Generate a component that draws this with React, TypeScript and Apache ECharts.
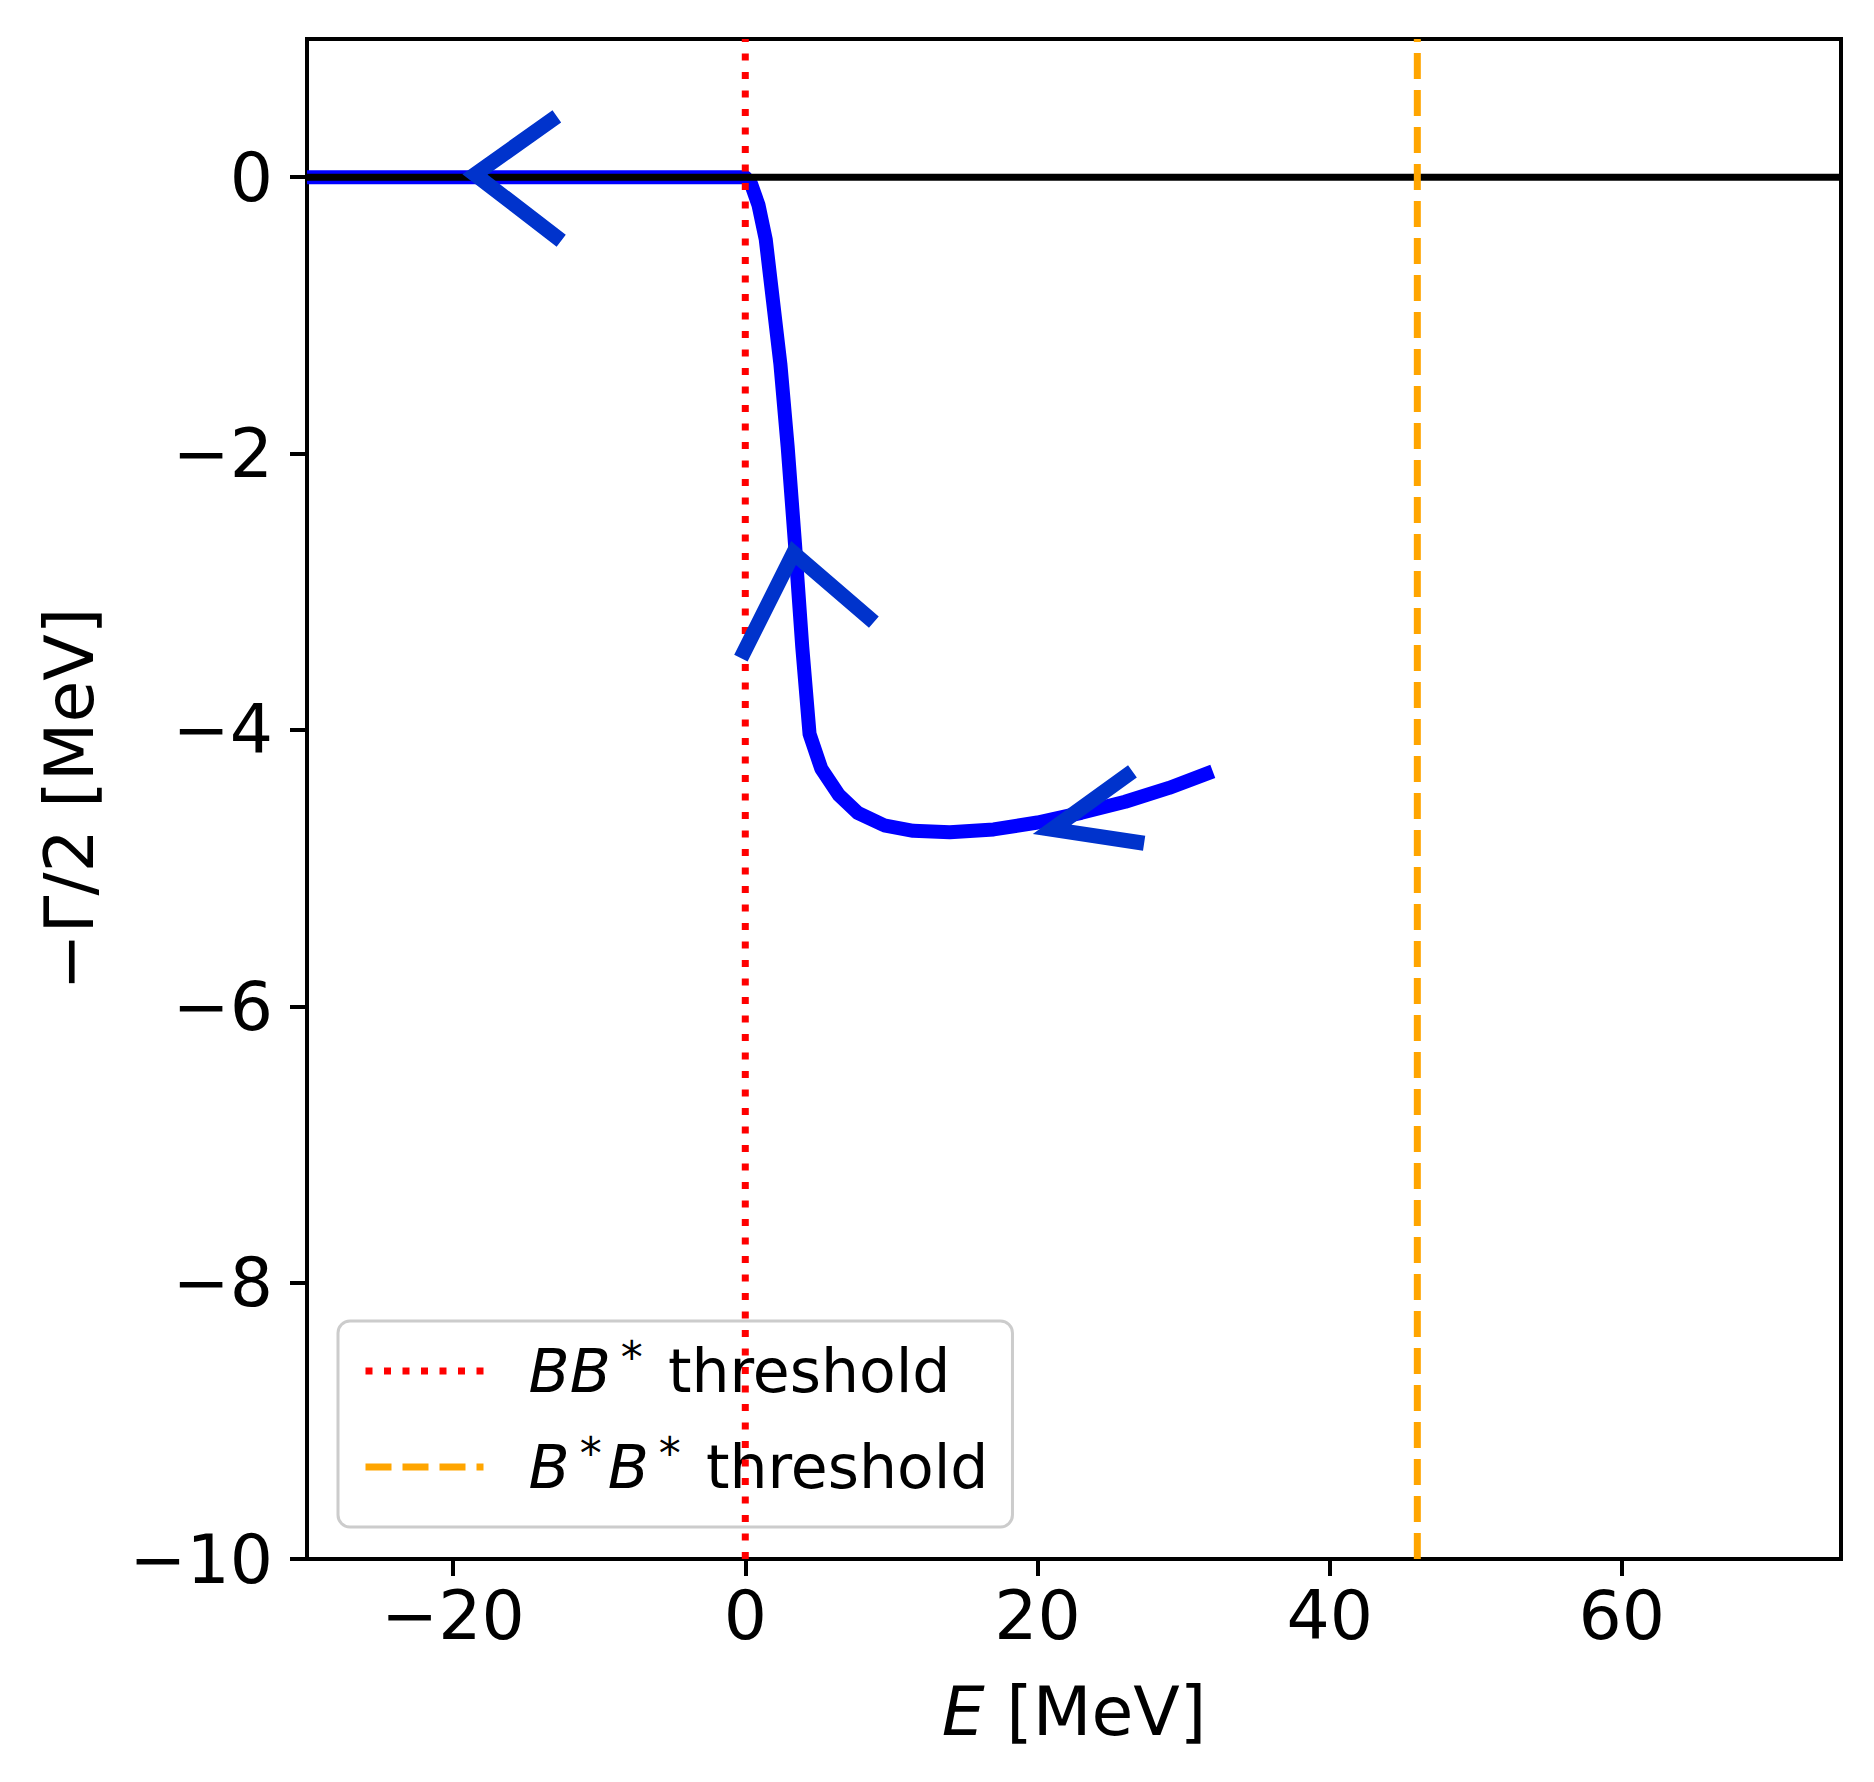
import React, { useEffect, useRef } from "react";
import * as echarts from "echarts";

// ---- data ----
const xTicks = [-20, 0, 20, 40, 60];
const yTicks = [-10, -8, -6, -4, -2, 0];

// trajectory of the pole: [E, -Γ/2]
const poleE = [-30, 0, 0.4, 0.9, 1.4, 1.9, 2.4, 2.9, 3.4, 3.9, 4.4, 5.2, 6.4, 7.7, 9.5, 11.5, 14, 17, 20, 23, 26, 29, 32];
const poleG = [0, 0, -0.05, -0.2, -0.45, -0.9, -1.35, -1.95, -2.65, -3.4, -4.03, -4.28, -4.47, -4.6, -4.69, -4.73, -4.74, -4.72, -4.67, -4.6, -4.52, -4.42, -4.3];

const bbThreshold = 0;
const bsbsThreshold = 46.0;
const yRange = [-10, 1];
const xRange = [-30, 75];

// arrow heads: [arm end 1, tip, arm end 2]
const arrow1 = [[-12.9, 0.44], [-18.5, 0.02], [-12.6, -0.46]];
const arrow2 = [[-0.3, -3.48], [3.3, -2.72], [8.8, -3.22]];
const arrow3 = [[26.5, -4.3], [21.0, -4.72], [27.3, -4.82]];

const FONT = "DejaVu Sans";

export default function App() {
  const ref = useRef<HTMLDivElement>(null);
  useEffect(() => {
    document.body.style.margin = "0";
    const chart = echarts.init(ref.current!, null, { renderer: "svg" });
    const curve = poleE.map((e, i) => [e, poleG[i]]);
    const arrowSeries = [arrow1, arrow2, arrow3].map((a, i) => ({
      type: "line",
      name: "arrow" + i,
      data: a,
      symbol: "none",
      z: 10,
      lineStyle: { color: "#0033cc", width: 15, cap: "butt", join: "miter" },
    }));
    chart.setOption({
      animation: false,
      backgroundColor: "#ffffff",
      grid: {
        left: 307,
        top: 39,
        width: 1534,
        height: 1520,
        show: true,
        borderColor: "#000",
        borderWidth: 4,
        backgroundColor: "transparent",
      },
      xAxis: {
        type: "value",
        min: xRange[0],
        max: xRange[1],
        splitLine: { show: false },
        axisLine: { show: true, onZero: false, lineStyle: { color: "#000", width: 4 } },
        axisTick: { show: true, customValues: xTicks, length: 17, lineStyle: { color: "#000", width: 4 } },
        axisLabel: {
          customValues: xTicks,
          fontSize: 68,
          fontFamily: FONT,
          color: "#000",
          margin: 22,
          formatter: (v: number) => String(v).replace("-", "\u2212"),
        },
        name: "{i|E} [MeV]",
        nameLocation: "middle",
        nameGap: 118,
        nameTextStyle: {
          fontSize: 68,
          fontFamily: FONT,
          color: "#000",
          rich: { i: { fontSize: 68, fontFamily: FONT, fontStyle: "italic", color: "#000" } },
        },
      },
      yAxis: {
        type: "value",
        min: yRange[0],
        max: yRange[1],
        splitLine: { show: false },
        axisLine: { show: true, onZero: false, lineStyle: { color: "#000", width: 4 } },
        axisTick: { show: true, customValues: yTicks, length: 17, lineStyle: { color: "#000", width: 4 } },
        axisLabel: {
          customValues: yTicks,
          fontSize: 68,
          fontFamily: FONT,
          color: "#000",
          margin: 34,
          formatter: (v: number) => String(v).replace("-", "\u2212"),
        },
        name: "\u2212\u0393/2 [MeV]",
        nameLocation: "middle",
        nameRotate: 90,
        nameGap: 204,
        nameTextStyle: { fontSize: 68, fontFamily: FONT, color: "#000" },
      },
      legend: {
        orient: "vertical",
        left: 338,
        top: 1321,
        padding: [14, 24, 24, 24],
        backgroundColor: "rgba(255,255,255,0.8)",
        borderColor: "#cccccc",
        borderWidth: 3,
        borderRadius: 12,
        itemWidth: 118,
        itemHeight: 20,
        itemGap: 24,
        data: [
          {
            name: "BB* threshold",
            itemStyle: { color: "rgba(0,0,0,0)", borderWidth: 0, opacity: 0 },
            lineStyle: { color: "#ff0000", width: 7, type: [7, 11.5], opacity: 1 },
          },
          {
            name: "B*B* threshold",
            itemStyle: { color: "rgba(0,0,0,0)", borderWidth: 0, opacity: 0 },
            lineStyle: { color: "#ffa500", width: 7, type: [26, 11], opacity: 1 },
          },
        ],
        formatter: (name: string) =>
          name === "BB* threshold"
            ? "{it|BB}{sup|*}{n| threshold}"
            : "{it|B}{sup|*}{it|B}{sup|*}{n| threshold}",
        textStyle: {
          fontSize: 60,
          fontFamily: FONT,
          color: "#000",
          lineHeight: 72,
          padding: [0, 0, 0, 40],
          rich: {
            it: { fontSize: 60, fontFamily: FONT, fontStyle: "italic", color: "#000", lineHeight: 72 },
            sup: { fontSize: 44, fontFamily: FONT, color: "#000", verticalAlign: "top", lineHeight: 44, padding: [0, 6, 0, 10] },
            n: { fontSize: 60, fontFamily: FONT, color: "#000", lineHeight: 72 },
          },
        },
      },
      series: [
        {
          type: "line",
          name: "pole",
          data: curve,
          symbol: "none",
          z: 3,
          lineStyle: { color: "#0000ff", width: 14, join: "round", cap: "butt" },
        },
        {
          type: "line",
          name: "zero",
          data: [[xRange[0], 0], [xRange[1], 0]],
          symbol: "none",
          z: 4,
          lineStyle: { color: "#000", width: 7 },
        },
        {
          type: "line",
          name: "BB* threshold",
          data: [[bbThreshold, yRange[0]], [bbThreshold, yRange[1]]],
          symbol: "none",
          z: 5,
          lineStyle: { color: "#ff0000", width: 7, type: [7, 11.5] },
          itemStyle: { color: "#ff0000" },
        },
        {
          type: "line",
          name: "B*B* threshold",
          data: [[bsbsThreshold, yRange[0]], [bsbsThreshold, yRange[1]]],
          symbol: "none",
          z: 5,
          lineStyle: { color: "#ffa500", width: 7, type: [26, 11] },
          itemStyle: { color: "#ffa500" },
        },
        ...arrowSeries,
      ],
    });
    return () => chart.dispose();
  }, []);
  return (
    <div
      ref={ref}
      style={{ position: "absolute", left: 0, top: 0, width: 1874, height: 1782 }}
    />
  );
}
